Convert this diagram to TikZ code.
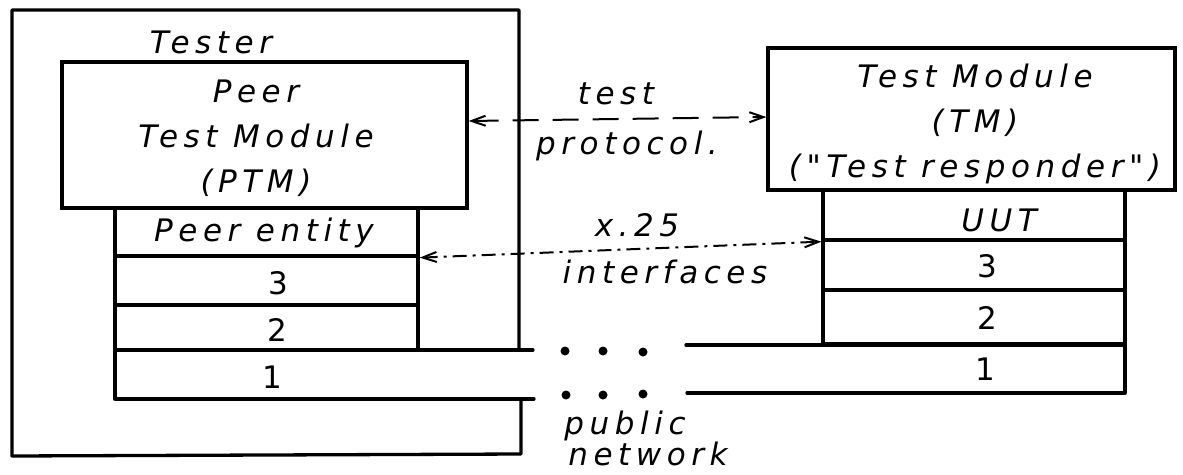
\documentclass[tikz,border=0pt]{standalone}
\usepackage{fontspec}
\setmainfont{DejaVu Sans}[LetterSpace=18, Ligatures=TeXOff]
\usetikzlibrary{arrows.meta}
\begin{document}
\begin{tikzpicture}[x=1pt,y=-1pt,
  thick line/.style={line width=3.3pt, line cap=round, line join=round},
  boxnode/.style={draw, line width=3.3pt, inner sep=0pt, fill=white},
  lab/.style={font=\fontsize{31}{45}\selectfont\itshape, inner sep=0pt, align=center},
  num/.style={font=\fontsize{31}{34}\selectfont, inner sep=0pt},
  tips/.style={{Straight Barb[length=14pt,width=10pt,line width=2pt]}-{Straight Barb[length=14pt,width=10pt,line width=2pt]}},
  dashline/.style={line width=2pt, dash pattern=on 26pt off 14pt},
  dashdot/.style={line width=2pt, dash pattern=on 14pt off 6pt on 3pt off 6pt},
  dotmark/.style={circle, fill=black, inner sep=0pt, minimum size=9pt}]
\useasboundingbox (0,0) rectangle (1183,474);

% Tester outer box
\coordinate (tA) at (519,349);
\coordinate (tB) at (519,10);
\coordinate (tC) at (12,10);
\coordinate (tD) at (12,456);
\coordinate (tE) at (521,454);
\coordinate (tF) at (521,399);
\draw[thick line] (tA) -- (tB) -- (tC) -- (tD) -- (tE) -- (tF);
\node[lab] (tester) at (211,42) {Tester};

% PTM box
\node[boxnode, minimum width=405pt, minimum height=146pt] (ptm) at (264.5,135) {};
\node[lab] (ptmtext) at (256,138) {Peer\\Test Module\\(PTM)};

% Peer stack
\node[boxnode, minimum width=303pt, minimum height=48pt] (pent) at (266.5,232) {};
\node[lab] (pentl) at (264,233) {Peer entity};
\node[boxnode, minimum width=303pt, minimum height=49pt] (p3) at (266.5,280.5) {};
\node[num] (p3l) at (278,283) {3};
\node[boxnode, minimum width=303pt, minimum height=45pt] (p2) at (266.5,327.5) {};
\node[num] (p2l) at (277,330) {2};

% layer 1 strip (left part)
\coordinate (l1a) at (533,350);
\coordinate (l1b) at (115,350);
\coordinate (l1c) at (115,399);
\coordinate (l1d) at (534,399);
\draw[thick line] (l1a) -- (l1b) -- (l1c) -- (l1d);
\node[num] (p1l) at (272,377) {1};

% TM box
\node[boxnode, minimum width=407pt, minimum height=142pt] (tm) at (971.5,119) {};
\node[lab] (tmtext) at (975,124) {Test Module\\(TM)\\("Test responder")};

% UUT stack
\node[boxnode, minimum width=302pt, minimum height=50pt] (uut) at (974,215) {};
\node[lab] (uutl) at (999,220) {UUT};
\node[boxnode, minimum width=302pt, minimum height=50pt] (u3) at (974,265) {};
\node[num] (u3l) at (987,266) {3};
\node[boxnode, minimum width=302pt, minimum height=54pt] (u2) at (974,317) {};
\node[num] (u2l) at (987,318) {2};

% layer 1 strip (right part)
\coordinate (r1a) at (686,345);
\coordinate (r1b) at (1125,345);
\coordinate (r1c) at (1125,393);
\coordinate (r1d) at (687,393);
\draw[thick line] (r1a) -- (r1b) -- (r1c) -- (r1d);
\node[num] (u1l) at (985,369) {1};

% dots of public network
\node[dotmark] (d1) at (565,351) {};
\node[dotmark] (d2) at (603,351) {};
\node[dotmark] (d3) at (643,352) {};
\node[dotmark] (d4) at (566,395) {};
\node[dotmark] (d5) at (603,395) {};
\node[dotmark] (d6) at (643,394) {};
\node[lab] (pub) at (625,426) {public};
\node[lab] (net) at (648,454) {network};

% test protocol connector
\coordinate (tpL) at (ptm.east |- 0,121);
\coordinate (tpR) at (tm.west |- 0,117);
\draw[dashline, tips] (tpL) -- (tpR);
\node[lab] (testl) at (616,94) {test};
\node[lab] (protl) at (627,146) {protocol.};

% X.25 connector
\draw[dashdot, tips] (pent.south east) -- (uut.south west);
\node[lab] (x25) at (637,225) {x.25};
\node[lab] (intf) at (665,272) {interfaces};
\end{tikzpicture}
\end{document}
